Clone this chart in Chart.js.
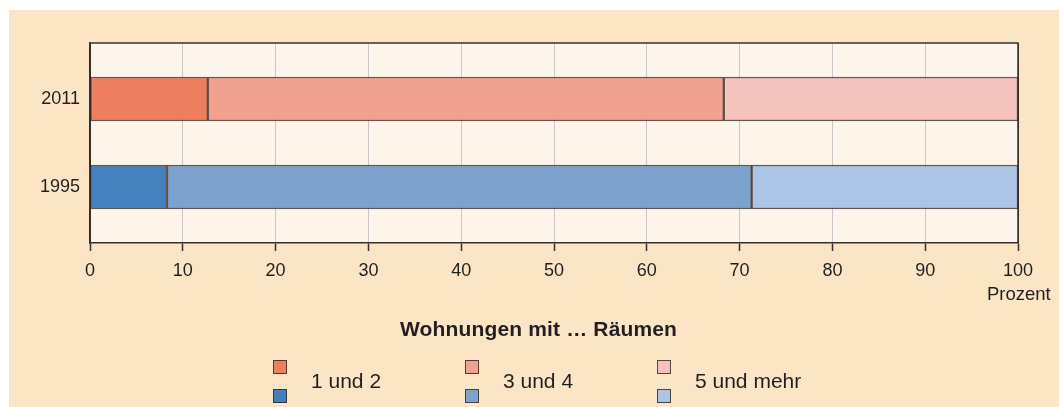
<!DOCTYPE html>
<html lang="de">
<head>
<meta charset="utf-8">
<title>Wohnungen mit … Räumen</title>
<script src="https://cdn.jsdelivr.net/npm/chart.js@4.4.1/dist/chart.umd.min.js"></script>
<style>
    html, body { margin: 0; padding: 0; background: #fff; }
    body { width: 1059px; height: 407px; position: relative; overflow: hidden; font-family: "Liberation Sans", Arial, sans-serif; color: #231f20; }
    .panel { position: absolute; left: 9px; top: 10px; width: 1050px; height: 397px; background: #fce5c4; }
    #chart { position: absolute; left: 0; top: 0; }
    .unit { position: absolute; left: 987px; top: 283px; font-size: 18.5px; }
    .title { position: absolute; left: 400px; top: 317px; font-size: 21px; font-weight: bold; white-space: nowrap; letter-spacing: 0.15px; }
    .legend-col { position: absolute; top: 360px; height: 43px; }
    .sw { position: absolute; left: 0; width: 12px; height: 12px; border: 1px solid rgba(50, 35, 30, 0.8); }
    .sw.top { top: 0; }
    .sw.bottom { top: 29px; }
    .lbl { position: absolute; left: 38px; top: 9px; font-size: 21px; white-space: nowrap; }
</style>
</head>
<body>
<div class="panel"></div>
<canvas id="chart" width="1059" height="407"></canvas>
<div class="unit">Prozent</div>
<div class="title">Wohnungen mit … Räumen</div>
<div id="legend"></div>
<script>
// data (percent shares)
const years = ['2011', '1995'];
const groups = ['1 und 2', '3 und 4', '5 und mehr'];
const share2011 = [12.7, 55.6, 31.7];
const share1995 = [8.3, 63.0, 28.7];
const xTicks = [0, 10, 20, 30, 40, 50, 60, 70, 80, 90, 100];

const redShades = ['#ef7d5f', '#f2a190', '#f5c3bd'];
const blueShades = ['#4380be', '#7ba3ce', '#abc4e3'];
const barBorder = 'rgba(50, 35, 30, 0.75)';
const frameColor = '#3b2f2c';

// custom legend: red square above, blue square below, label between
const legendEl = document.getElementById('legend');
legendEl.innerHTML = groups.map((g, i) => `
    <div class="legend-col" style="left:${273 + i * 192}px">
        <span class="sw top" style="background:${redShades[i]}"></span>
        <span class="sw bottom" style="background:${blueShades[i]}"></span>
        <span class="lbl">${g}</span>
    </div>`).join('');

const datasets = groups.map((g, i) => ({
    label: g,
    data: [
        { x: share2011[i], y: 0 },
        { x: share1995[i], y: 1 },
    ],
    backgroundColor: [redShades[i], blueShades[i]],
    borderColor: barBorder,
    borderWidth: 1.5,
    borderSkipped: false,
    barThickness: 44,
}));

// plot background + top/right frame
const plotFrame = {
    id: 'plotFrame',
    beforeDraw(chart) {
        const { ctx, chartArea: a } = chart;
        ctx.save();
        ctx.fillStyle = '#fef5ea';
        ctx.fillRect(a.left, a.top, a.right - a.left, a.bottom - a.top);
        ctx.restore();
    },
    afterDraw(chart) {
        const { ctx, chartArea: a } = chart;
        ctx.save();
        ctx.strokeStyle = frameColor;
        ctx.lineWidth = 1.5;
        ctx.beginPath();
        ctx.moveTo(a.left, a.top);
        ctx.lineTo(a.right, a.top);
        ctx.lineTo(a.right, a.bottom);
        ctx.stroke();
        ctx.restore();
    }
};

new Chart(document.getElementById('chart'), {
    type: 'bar',
    data: { datasets },
    options: {
        indexAxis: 'y',
        responsive: false,
        animation: false,
        layout: { padding: { top: 43, right: 41, bottom: 0, left: 0 } },
        plugins: { legend: { display: false }, tooltip: { enabled: false } },
        scales: {
            x: {
                type: 'linear', stacked: true, min: 0, max: 100,
                afterBuildTicks: s => { s.ticks = xTicks.map(v => ({ value: v })); },
                afterFit: s => { s.height = 164; },
                grid: {
                    color: ctx => (ctx.index === 0 || ctx.index === xTicks.length - 1) ? frameColor : '#c9c9cc',
                    lineWidth: 1,
                    tickLength: 8,
                    tickColor: frameColor,
                    tickWidth: 1.5,
                },
                border: { display: true, color: frameColor, width: 1.5 },
                ticks: { padding: 9, color: '#231f20', font: { family: 'Liberation Sans', size: 18 } },
            },
            y: {
                type: 'linear', stacked: true, reverse: true, offset: false,
                min: -0.636, max: 1.636,
                afterBuildTicks: s => { s.ticks = years.map((_, i) => ({ value: i })); },
                afterFit: s => { s.width = 90; },
                grid: { display: false, drawTicks: false },
                border: { display: true, color: frameColor, width: 1.5 },
                ticks: {
                    padding: 10, color: '#231f20', font: { family: 'Liberation Sans', size: 18 },
                    callback: v => years[v] ?? '',
                },
            },
        },
    },
    plugins: [plotFrame],
});
</script>
</body>
</html>
